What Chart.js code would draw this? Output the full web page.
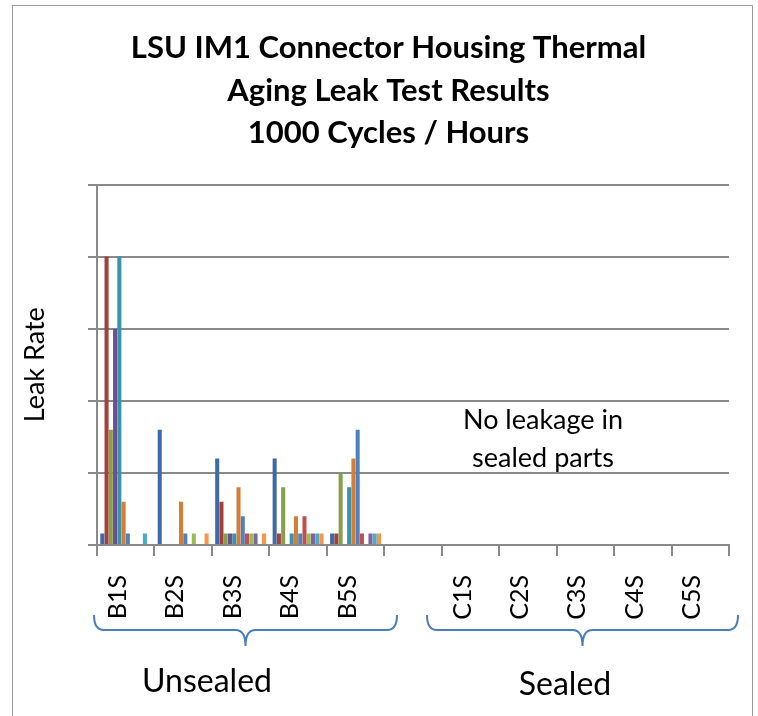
<!DOCTYPE html>
<html>
<head>
<meta charset="utf-8">
<title>LSU IM1 Connector Housing Thermal Aging Leak Test Results</title>
<script src="https://cdn.jsdelivr.net/npm/chart.js@4.4.1/dist/chart.umd.min.js"></script>
<style>
  html, body { margin: 0; padding: 0; background: #fff; }
</style>
</head>
<body>
<canvas id="myChart" width="758" height="716"></canvas>
<script>
// samples along the x axis, the blank one splits unsealed from sealed
let categories = ['B1S', 'B2S', 'B3S', 'B4S', 'B5S', '', 'C1S', 'C2S', 'C3S', 'C4S', 'C5S'];

// leak rate of each test part per sample (sealed = no leakage)
let part1  = [0.16, 1.6,  1.2,  1.2,  0.16, 0, 0, 0, 0, 0, 0];
let part2  = [4.0,  0,    0.6,  0.16, 0.16, 0, 0, 0, 0, 0, 0];
let part3  = [1.6,  0,    0.16, 0.8,  1.0,  0, 0, 0, 0, 0, 0];
let part4  = [3.0,  0,    0.16, 0,    0,    0, 0, 0, 0, 0, 0];
let part5  = [4.0,  0,    0.16, 0.16, 0.8,  0, 0, 0, 0, 0, 0];
let part6  = [0.6,  0.6,  0.8,  0.4,  1.2,  0, 0, 0, 0, 0, 0];
let part7  = [0.16, 0.16, 0.4,  0.16, 1.6,  0, 0, 0, 0, 0, 0];
let part8  = [0,    0,    0.16, 0.4,  0.16, 0, 0, 0, 0, 0, 0];
let part9  = [0,    0.16, 0.16, 0.16, 0,    0, 0, 0, 0, 0, 0];
let part10 = [0,    0,    0.16, 0.16, 0.16, 0, 0, 0, 0, 0, 0];
let part11 = [0.16, 0,    0,    0.16, 0.16, 0, 0, 0, 0, 0, 0];
let part12 = [0,    0.16, 0.16, 0.16, 0.16, 0, 0, 0, 0, 0, 0];

let allParts = [part1, part2, part3, part4, part5, part6, part7, part8, part9, part10, part11, part12];

// office style series colours
let colors = [
    '#3e6ba6', '#a43f3c', '#84a04a', '#6b5090', '#3a93ac', '#d67d35',
    '#4f81bd', '#c0504d', '#9bbb59', '#8064a2', '#4bacc6', '#f79646'
];

let gridGray = '#8a8a8a';
let font = 'Lato, sans-serif';

let datasets = [];
for (var i = 0; i < allParts.length; i++) {
    datasets.push({
        label: 'Part ' + (i + 1),
        data: allParts[i],
        backgroundColor: colors[i],
        borderWidth: 0,
        categoryPercentage: 0.89,
        barPercentage: 0.95
    });
}

// draw a curly brace under a group of samples
function brace(ctx, x0, x1, top, mid, bottom) {
    let xm = (x0 + x1) / 2;
    let r = 10;
    ctx.beginPath();
    ctx.moveTo(x0, top);
    ctx.quadraticCurveTo(x0, mid, x0 + r, mid);
    ctx.lineTo(xm - r, mid);
    ctx.quadraticCurveTo(xm, mid, xm, bottom);
    ctx.quadraticCurveTo(xm, mid, xm + r, mid);
    ctx.lineTo(x1 - r, mid);
    ctx.quadraticCurveTo(x1, mid, x1, top);
    ctx.stroke();
}

// frame, braces, group names and the note
let extras = {
    id: 'extras',
    beforeDraw(chart) {
        let ctx = chart.ctx;
        ctx.save();
        ctx.strokeStyle = '#9a9a9a';
        ctx.lineWidth = 1;
        ctx.strokeRect(12.5, 5.5, 740, 730);
        ctx.restore();
    },
    afterDraw(chart) {
        let ctx = chart.ctx;
        ctx.save();
        ctx.strokeStyle = '#4a7ebb';
        ctx.lineWidth = 2;
        brace(ctx, 94, 397, 615, 630, 646);
        brace(ctx, 427, 738, 615, 630, 646);

        ctx.fillStyle = '#000';
        ctx.textAlign = 'center';
        ctx.textBaseline = 'middle';
        ctx.font = '32px ' + font;
        ctx.fillText('Unsealed', 207, 682);
        ctx.fillText('Sealed', 565, 685);
        ctx.font = '27px ' + font;
        ctx.fillText('No leakage in', 543, 420);
        ctx.fillText('sealed parts', 543, 458);
        ctx.restore();
    }
};

let ctx = document.getElementById('myChart').getContext('2d');
let myChart = new Chart(ctx, {
    type: 'bar',
    data: {
        labels: categories,
        datasets: datasets
    },
    options: {
        responsive: false,
        animation: false,
        layout: { padding: { left: 19, right: 0, top: 0, bottom: 0 } },
        plugins: {
            legend: { display: false },
            tooltip: { enabled: false },
            title: {
                display: true,
                text: ['LSU IM1 Connector Housing Thermal', 'Aging Leak Test Results', '1000 Cycles / Hours'],
                color: '#000',
                font: { family: font, size: 31, weight: 'bold', lineHeight: '42.5px' },
                padding: { top: 27, bottom: 30 }
            }
        },
        scales: {
            x: {
                grid: { drawOnChartArea: false, drawTicks: true, tickLength: 11, color: gridGray, lineWidth: 2 },
                border: { display: true, color: gridGray, width: 2 },
                ticks: {
                    color: '#000',
                    font: { family: font, size: 25 },
                    minRotation: 90,
                    maxRotation: 90,
                    autoSkip: false,
                    padding: 19,
                    labelOffset: -8
                },
                afterFit(scale) { scale.height = 171; }
            },
            y: {
                min: 0,
                max: 5,
                grid: { color: gridGray, lineWidth: 2, tickLength: 9 },
                border: { display: true, color: gridGray, width: 2 },
                ticks: { display: false, stepSize: 1 },
                title: {
                    display: true,
                    text: 'Leak Rate',
                    color: '#000',
                    font: { family: font, size: 27 },
                    padding: { top: 0, bottom: 0 }
                },
                afterFit(scale) { scale.width = 78; }
            },
            // empty right axis only keeps the plot clear of the right frame
            y2: {
                position: 'right',
                display: true,
                grid: { display: false },
                border: { display: false },
                ticks: { display: false },
                afterFit(scale) { scale.width = 29; }
            }
        }
    },
    plugins: [extras]
});
</script>
</body>
</html>
